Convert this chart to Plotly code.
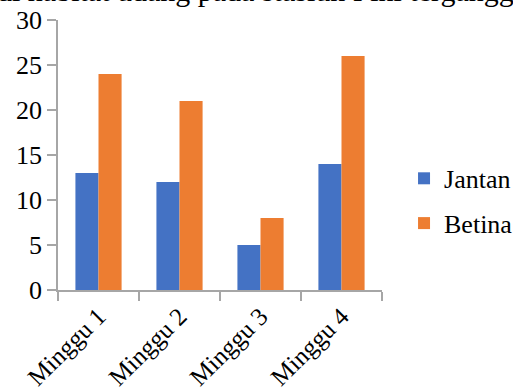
import plotly.graph_objects as go

categories = ["Minggu 1", "Minggu 2", "Minggu 3", "Minggu 4"]
jantan = [13, 12, 5, 14]
betina = [24, 21, 8, 26]
y_ticks = [0, 5, 10, 15, 20, 25, 30]

serif = "Liberation Serif"
axis_gray = "#a6a6a6"

fig = go.Figure()
fig.add_trace(go.Bar(x=categories, y=jantan, name="Jantan", legendgroup="j",
                     marker=dict(color="#4472C4", line=dict(width=0))))
fig.add_trace(go.Bar(x=categories, y=betina, name="Betina", legendgroup="b",
                     marker=dict(color="#ED7D31", line=dict(width=0))))

fig.update_layout(
    width=513, height=392,
    margin=dict(l=58, r=131, t=20, b=102, autoexpand=False),
    paper_bgcolor="white", plot_bgcolor="white",
    barmode="group", bargap=0.43, bargroupgap=0,
    font=dict(family=serif, size=26, color="black"),
    showlegend=True,
    legend=dict(x=1.068, xanchor="left", y=0.33, yanchor="middle",
                font=dict(family=serif, size=26, color="black"),
                itemsizing="constant", traceorder="grouped",
                tracegroupgap=8, itemwidth=30),
    xaxis=dict(showline=True, linecolor=axis_gray, linewidth=1.5,
               ticks="outside", tickson="boundaries", ticklen=9,
               tickcolor=axis_gray, tickwidth=1.5, tickangle=-45,
               tickfont=dict(family=serif, size=25), showgrid=False,
               automargin=False),
    yaxis=dict(range=[0, 30], tickvals=y_ticks, showline=True,
               linecolor=axis_gray, linewidth=1.5, ticks="outside",
               ticklen=9, tickcolor=axis_gray, tickwidth=1.5,
               tickfont=dict(family=serif, size=26), showgrid=False,
               zeroline=False, automargin=False),
)

# caption line from the surrounding text, clipped at the top edge
fig.add_annotation(text="di habitat udang pada stasiun I ini terganggu",
                   xref="paper", yref="paper", x=-63 / 324, y=1 + 20 / 270,
                   xanchor="left", yanchor="middle", yshift=10,
                   showarrow=False,
                   font=dict(family=serif, size=30, color="black"))

fig.write_html("out.html")
